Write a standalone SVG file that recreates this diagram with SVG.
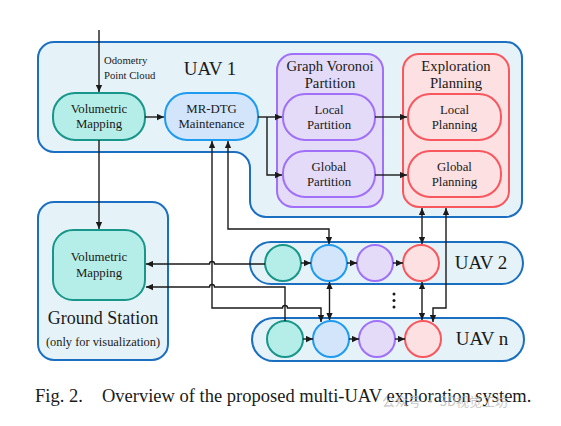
<svg xmlns="http://www.w3.org/2000/svg" width="561" height="426" viewBox="0 0 561 426">
<style>
text{font-family:"Liberation Serif","Times New Roman",serif;fill:#1a1a1a}
.c{fill:#e5f2f7;stroke:#1b6fc0;stroke-width:2}
.teal{fill:#b5ede8;stroke:#18968a;stroke-width:2}
.blue{fill:#d3e5fb;stroke:#1e9bf0;stroke-width:2}
.pur{fill:#e3dbf7;stroke:#a070f8;stroke-width:2}
.red{fill:#fde0e2;stroke:#f8575e;stroke-width:2}
.w{fill:none;stroke:#1a1a1a;stroke-width:1.4}
.a{marker-end:url(#ah)}
.b{marker-start:url(#ah);marker-end:url(#ah)}
.n{font-size:12.8px;text-anchor:middle}
.h{font-size:14.7px;text-anchor:middle}
.big{font-size:19px}
</style>
<defs>
<marker id="ah" viewBox="0 0 10 10" refX="10" refY="5" markerWidth="7" markerHeight="7" markerUnits="userSpaceOnUse" orient="auto-start-reverse"><path d="M0,0.5 L10,5 L0,9.5 z" fill="#1a1a1a"/></marker>
</defs>
<rect width="561" height="426" fill="#ffffff"/>

<g id="uav1">
<path class="c" d="M54,42 H506 A16,16 0 0 1 522,58 V201 A16,16 0 0 1 506,217 H266 A16,16 0 0 1 250,201 V168 A16,16 0 0 0 234,152 H54 A16,16 0 0 1 38,136 V58 A16,16 0 0 1 54,42 Z"/>
<text class="big" x="210" y="75" text-anchor="middle">UAV 1</text>
<text x="104" y="64" font-size="10.7">Odometry</text>
<text x="104" y="79" font-size="10.7">Point Cloud</text>
</g>
<g id="uav1-volumetric-mapping">
<rect class="teal" x="53" y="93" width="92" height="47" rx="22"/>
<text class="n" x="99" y="113">Volumetric</text>
<text class="n" x="99" y="128">Mapping</text>
</g>
<g id="mr-dtg">
<rect class="blue" x="165" y="93" width="93" height="47" rx="22"/>
<text class="n" x="211.5" y="113">MR-DTG</text>
<text class="n" x="211.5" y="128">Maintenance</text>
</g>
<g id="graph-voronoi-partition">
<rect class="pur" x="277" y="54" width="106" height="153" rx="16"/>
<text class="h" x="330" y="71">Graph Voronoi</text>
<text class="h" x="330" y="88">Partition</text>
</g>
<g id="local-partition">
<rect class="pur" x="283" y="94" width="92" height="46" rx="22"/>
<text class="n" x="329" y="114">Local</text>
<text class="n" x="329" y="129">Partition</text>
</g>
<g id="global-partition">
<rect class="pur" x="283" y="151" width="92" height="46" rx="22"/>
<text class="n" x="329" y="171">Global</text>
<text class="n" x="329" y="186">Partition</text>
</g>
<g id="exploration-planning">
<rect class="red" x="403" y="54" width="106" height="153" rx="16"/>
<text class="h" x="456" y="71">Exploration</text>
<text class="h" x="456" y="88">Planning</text>
</g>
<g id="local-planning">
<rect class="red" x="408" y="94" width="93" height="46" rx="22"/>
<text class="n" x="454.5" y="114">Local</text>
<text class="n" x="454.5" y="129">Planning</text>
</g>
<g id="global-planning">
<rect class="red" x="408" y="151" width="93" height="46" rx="22"/>
<text class="n" x="454.5" y="171">Global</text>
<text class="n" x="454.5" y="186">Planning</text>
</g>

<g id="ground-station">
<rect class="c" x="38" y="202" width="130" height="158" rx="16"/>
<text x="103" y="324" font-size="18" text-anchor="middle">Ground Station</text>
<text x="103" y="346" font-size="12.4" text-anchor="middle">(only for visualization)</text>
</g>
<g id="gs-volumetric-mapping">
<rect class="teal" x="53" y="230" width="92" height="70" rx="20"/>
<text class="n" x="99" y="261">Volumetric</text>
<text class="n" x="99" y="277">Mapping</text>
</g>

<g id="uav2">
<rect class="c" x="250" y="242" width="273" height="42" rx="21"/>
<circle class="teal" cx="283" cy="263" r="18"/>
<circle class="blue" cx="329" cy="263" r="18"/>
<circle class="pur" cx="375" cy="263" r="18"/>
<circle class="red" cx="421" cy="263" r="18"/>
<text class="big" x="481" y="269" text-anchor="middle">UAV 2</text>
</g>
<g id="uavn">
<rect class="c" x="252" y="318" width="272" height="43" rx="21.5"/>
<circle class="teal" cx="285" cy="339" r="18"/>
<circle class="blue" cx="331" cy="339" r="18"/>
<circle class="pur" cx="377" cy="339" r="18"/>
<circle class="red" cx="423" cy="339" r="18"/>
<text class="big" x="482" y="345" text-anchor="middle">UAV n</text>
</g>
<g id="ellipsis" fill="#1a1a1a">
<circle cx="394" cy="294" r="1.5"/>
<circle cx="394" cy="300.5" r="1.5"/>
<circle cx="394" cy="307" r="1.5"/>
</g>

<g id="connectors">
<path class="w a" d="M99,30 V92"/>
<path class="w a" d="M145,117 H164"/>
<path class="w a" d="M258,117 H282"/>
<path class="w a" d="M267,117 V175 H282"/>
<path class="w a" d="M375,117 H407"/>
<path class="w a" d="M375,175 H407"/>
<path class="w a" d="M99,140 V229"/>
<path class="w a" d="M301,263 H311"/>
<path class="w a" d="M347,263 H357"/>
<path class="w a" d="M393,263 H403"/>
<path class="w a" d="M303,339 H313"/>
<path class="w a" d="M349,339 H359"/>
<path class="w a" d="M395,339 H405"/>
<path class="w b" d="M228,141 V229 H329 V244"/>
<path class="w b" d="M212,141 V308 H282.5 A2.5,2.5 0 0 1 287.5,308 H321 V322"/>
<path class="w b" d="M329.5,282 V320"/>
<path class="w a" d="M265,264 H214.5 A2.5,2.5 0 0 0 209.5,264 H146"/>
<path class="w a" d="M285,321 V287 H214.5 A2.5,2.5 0 0 0 209.5,287 H146"/>
<path class="w b" d="M422,208 V244"/>
<path class="w b" d="M422,282 V320"/>
<path class="w b" d="M446,208 V308 H433 V322"/>
</g>

<g id="caption">
<text x="35" y="402" font-size="18.5">Fig. 2.</text>
<text x="102" y="402" font-size="18.5">Overview of the proposed multi-UAV exploration system.</text>
<text x="382" y="406" font-size="13" style="font-family:'Noto Sans CJK SC','Liberation Sans',sans-serif;fill:#bdbdbd;fill-opacity:0.85">公众号 · 3D视觉工坊</text>
</g>
</svg>
